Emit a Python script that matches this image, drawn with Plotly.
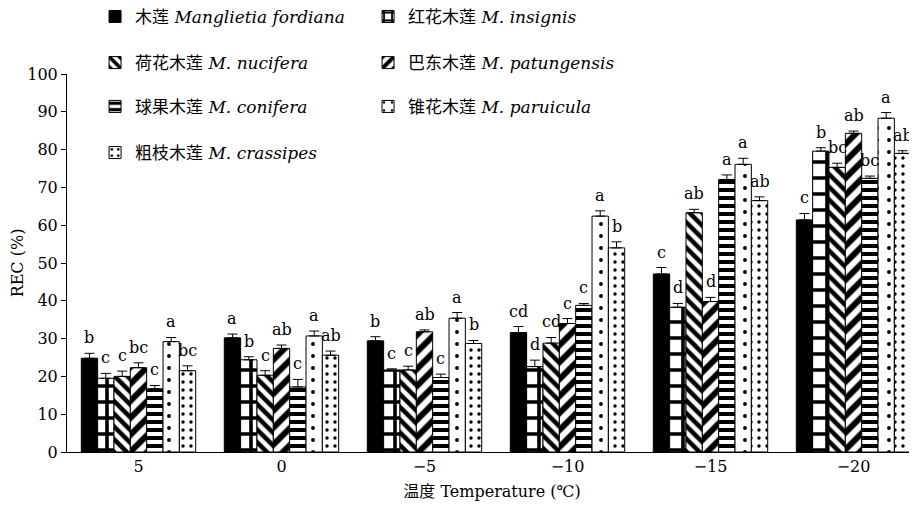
import plotly.graph_objects as go

temps = ["5", "0", "−5", "−10", "−15", "−20"]
species = [
    "木莲 <i>Manglietia fordiana</i>",
    "红花木莲 <i>M. insignis</i>",
    "荷花木莲 <i>M. nucifera</i>",
    "巴东木莲 <i>M. patungensis</i>",
    "球果木莲 <i>M. conifera</i>",
    "锥花木莲 <i>M. paruicula</i>",
    "粗枝木莲 <i>M. crassipes</i>",
]

fordiana = [24.8, 30.2, 29.4, 31.6, 47.1, 61.4]
insignis = [19.5, 24.4, 21.7, 22.6, 38.3, 79.6]
nucifera = [20.0, 20.3, 21.7, 28.8, 63.3, 75.3]
patungensis = [22.3, 27.4, 31.8, 34.0, 39.8, 84.3]
conifera = [16.7, 17.2, 19.7, 38.8, 72.1, 72.4]
paruicula = [29.2, 30.7, 35.4, 62.4, 76.1, 88.3]
crassipes = [21.5, 25.6, 28.7, 54.0, 66.5, 79.0]

err_fordiana = [1.3, 1.0, 1.1, 1.6, 1.7, 1.7]
err_insignis = [1.3, 0.8, 0.3, 1.7, 1.0, 0.9]
err_nucifera = [1.4, 1.2, 1.0, 1.5, 0.9, 1.1]
err_patungensis = [1.3, 0.9, 0.5, 1.3, 1.1, 0.6]
err_conifera = [0.9, 2.0, 0.9, 0.5, 1.2, 0.6]
err_paruicula = [1.1, 1.3, 1.5, 1.4, 1.6, 1.5]
err_crassipes = [1.3, 1.1, 0.8, 1.6, 1.0, 0.7]

lab_fordiana = ["b", "a", "b", "cd", "c", "c"]
lab_insignis = ["c", "b", "c", "d", "d", "b"]
lab_nucifera = ["c", "c", "c", "cd", "ab", "bc"]
lab_patungensis = ["bc", "ab", "ab", "c", "d", "ab"]
lab_conifera = ["c", "c", "c", "c", "a", "bc"]
lab_paruicula = ["a", "a", "a", "a", "a", "a"]
lab_crassipes = ["bc", "ab", "b", "b", "ab", "ab"]

values = [fordiana, insignis, nucifera, patungensis, conifera, paruicula, crassipes]
errors = [err_fordiana, err_insignis, err_nucifera, err_patungensis, err_conifera, err_paruicula, err_crassipes]
labels = [lab_fordiana, lab_insignis, lab_nucifera, lab_patungensis, lab_conifera, lab_paruicula, lab_crassipes]

patterns = [
    None,
    dict(shape="+", size=16, solidity=0.4),
    dict(shape="\\", size=9, solidity=0.5),
    dict(shape="/", size=12, solidity=0.5),
    dict(shape="-", size=8, solidity=0.5),
    dict(shape=".", size=12, solidity=0.08),
    dict(shape=".", size=8, solidity=0.14),
]
legend_ids = ["legend", "legend", "legend2", "legend2", "legend3", "legend3", "legend4"]

FONT = "DejaVu Serif, Noto Sans CJK SC, serif"
xs = list(range(len(temps)))
bargap = 0.2
n = len(species)
w = (1 - bargap) / n

fig = go.Figure()
for j in range(n):
    if patterns[j] is None:
        marker = dict(color="black", line=dict(color="black", width=1))
    else:
        p = dict(patterns[j])
        p.update(fgcolor="black", bgcolor="white", fgopacity=1, fillmode="replace")
        marker = dict(color="white", pattern=p, line=dict(color="black", width=1))
    fig.add_trace(go.Bar(
        x=xs, y=values[j], name=species[j], marker=marker,
        legend=legend_ids[j],
        error_y=dict(type="data", symmetric=False, array=errors[j],
                     arrayminus=[0] * len(xs), color="black", thickness=1, width=5),
    ))

for j in range(n):
    for i in range(len(temps)):
        xc = xs[i] - (1 - bargap) / 2 + (j + 0.5) * w
        fig.add_annotation(x=xc, y=values[j][i] + errors[j][i], text=labels[j][i],
                           showarrow=False, yanchor="bottom", yshift=4,
                           font=dict(family=FONT, size=16, color="black"))

leg_common = dict(orientation="h", entrywidth=228, entrywidthmode="pixels",
                  xanchor="left", yanchor="middle", bgcolor="rgba(0,0,0,0)",
                  font=dict(family=FONT, size=17, color="black"), itemwidth=30,
                  traceorder="normal")
lx = 0.033
fig.update_layout(
    width=917, height=510,
    margin=dict(l=59, r=8, t=66, b=66, autoexpand=False),
    plot_bgcolor="white", paper_bgcolor="white",
    barmode="group", bargap=bargap, bargroupgap=0,
    font=dict(family=FONT, size=16, color="black"),
    legend=dict(leg_common, x=lx, y=1.151),
    legend2=dict(leg_common, x=lx, y=1.029),
    legend3=dict(leg_common, x=lx, y=0.913),
    legend4=dict(leg_common, x=lx, y=0.791),
    xaxis=dict(tickvals=xs, ticktext=temps, range=[-0.5, 5.444], showline=True,
               linecolor="black", linewidth=1, ticks="", showgrid=False, zeroline=False,
               tickfont=dict(family=FONT, size=16),
               title=dict(text="温度 Temperature (℃)", font=dict(family=FONT, size=16), standoff=10)),
    yaxis=dict(range=[0, 100], dtick=10, showline=True, linecolor="black", linewidth=1,
               ticks="outside", ticklen=5, tickcolor="black", showgrid=False, zeroline=False,
               tickfont=dict(family=FONT, size=16),
               title=dict(text="REC (%)", font=dict(family=FONT, size=16), standoff=10)),
)
fig.write_html("out.html")
